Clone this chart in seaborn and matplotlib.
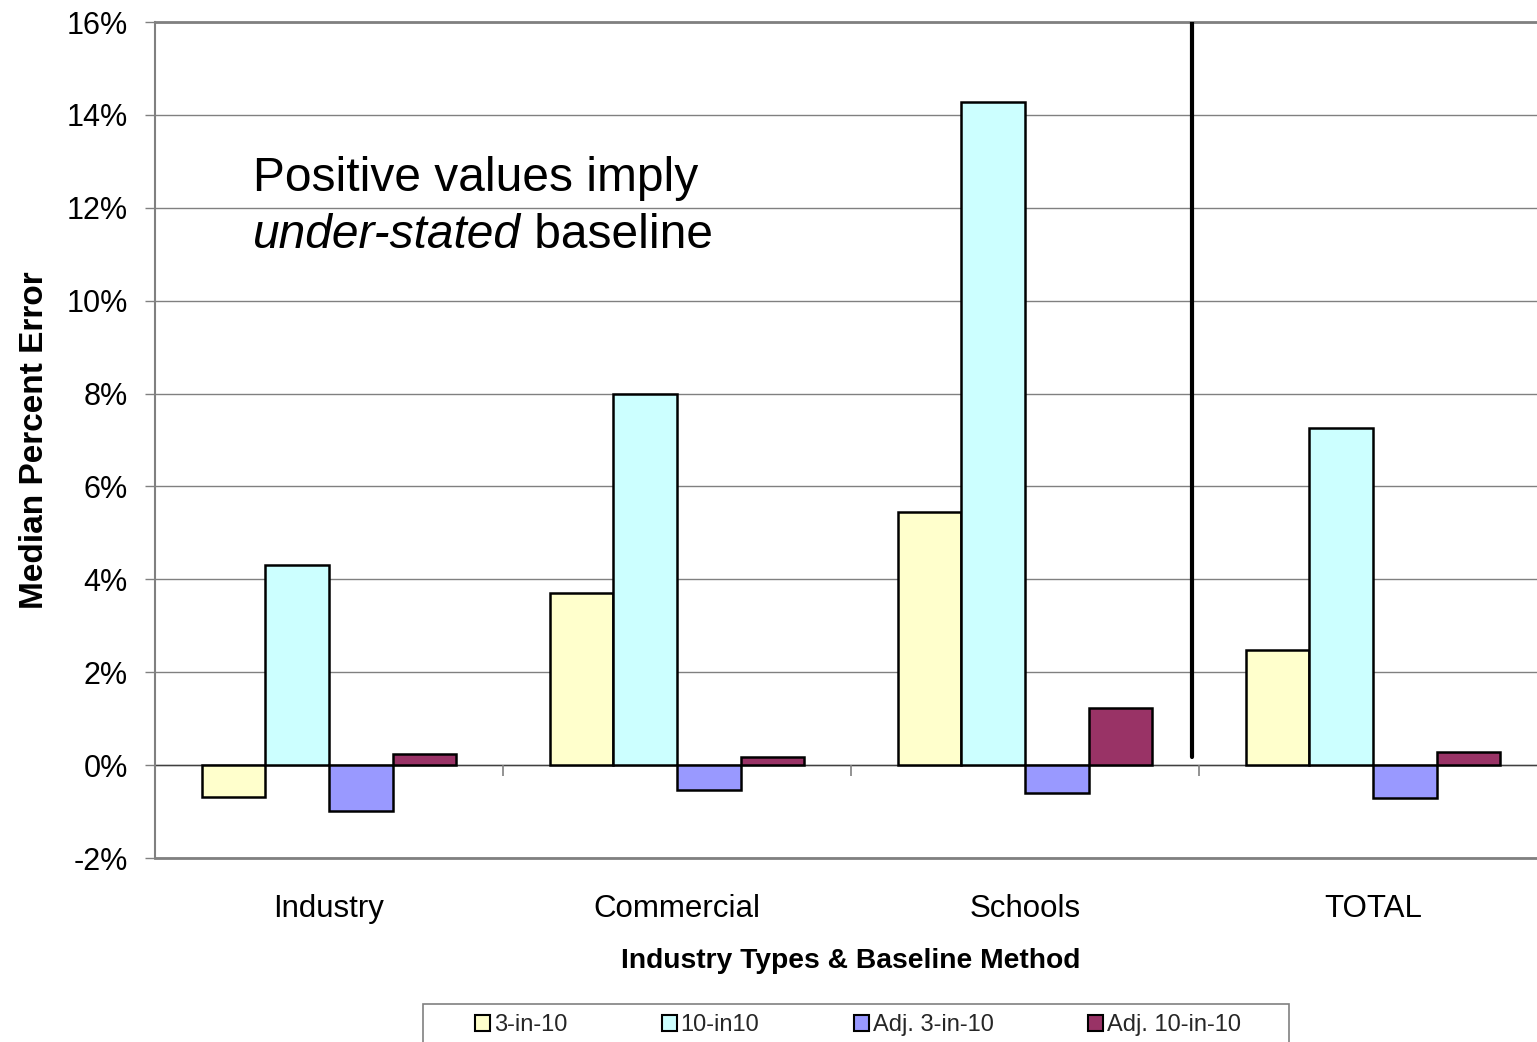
import numpy as np
import pandas as pd
import matplotlib
matplotlib.use("Agg")
import matplotlib.pyplot as plt
from matplotlib.patches import Patch, Rectangle
from matplotlib.ticker import FuncFormatter, MultipleLocator
import seaborn as sns

# Median percent error by industry type and baseline method
categories = ["Industry", "Commercial", "Schools", "TOTAL"]
methods = ["3-in-10", "10-in10", "Adj. 3-in-10", "Adj. 10-in-10"]
err_3in10 = [-0.69, 3.70, 5.46, 2.47]
err_10in10 = [4.30, 7.98, 14.28, 7.25]
err_adj_3in10 = [-0.99, -0.54, -0.60, -0.71]
err_adj_10in10 = [0.24, 0.17, 1.23, 0.28]
colors = ["#FFFFCC", "#CCFFFF", "#9999FF", "#993366"]

series = [err_3in10, err_10in10, err_adj_3in10, err_adj_10in10]
df = pd.DataFrame({
    "Category": np.tile(categories, len(methods)),
    "Method": np.repeat(methods, len(categories)),
    "Value": np.concatenate(series),
})

sns.set_theme(style="white")
plt.rcParams["font.family"] = ["Liberation Sans", "DejaVu Sans"]
plt.rcParams["axes.unicode_minus"] = False

fig = plt.figure(figsize=(15.37, 10.42), dpi=100)
ax = fig.add_axes([155 / 1537, 1 - 858 / 1042, 1392 / 1537, 836 / 1042])

grid_color = "#808080"
ax.set_axisbelow(True)
ax.yaxis.grid(True, color=grid_color, lw=1.0)
ax.xaxis.grid(False)

sns.barplot(data=df, x="Category", y="Value", hue="Method", order=categories,
            hue_order=methods, palette=colors, saturation=1, width=0.73,
            edgecolor="black", linewidth=1.8, legend=False, ax=ax, zorder=3)

ax.axhline(0, color="#404040", lw=1.0, zorder=2)

ax.set_ylim(-2, 16)
ax.set_xlim(-0.5, len(categories) - 0.5)
ax.yaxis.set_major_locator(MultipleLocator(2))
ax.yaxis.set_major_formatter(FuncFormatter(lambda v, p: "%d%%" % round(v)))

# separators between category groups on the zero line
bounds = np.arange(len(categories) - 1) + 0.5
ax.vlines(bounds, 0, -0.24, color=grid_color, lw=1.2, zorder=2)

# divider between individual sectors and the total
ax.axvline(2.48, ymin=(0.17 + 2) / 18, ymax=1, color="black", lw=3.0, zorder=4)

for side in ["left", "bottom", "top"]:
    ax.spines[side].set_visible(True)
    ax.spines[side].set_color(grid_color)
ax.spines["left"].set_linewidth(1.5)
ax.spines["bottom"].set_linewidth(2.0)
ax.spines["top"].set_linewidth(2.0)
ax.spines["right"].set_visible(False)

ax.tick_params(axis="y", which="major", direction="out", length=7.5, width=1.0,
               color=grid_color, left=True, labelsize=22, pad=12, labelcolor="black")
ax.tick_params(axis="x", which="major", length=0, labelsize=22.5, pad=26,
               labelcolor="black")

ax.set_xlabel("Industry Types & Baseline Method", fontsize=20.3, fontweight="bold",
              labelpad=17, color="black")
ax.set_ylabel("Median Percent Error", fontsize=24, fontweight="bold",
              labelpad=12, color="black")

# annotation
ax.text(0.0704, 0.813, "Positive values imply", transform=ax.transAxes,
        fontsize=34.5, va="center", ha="left", color="black", zorder=5)
t2 = ax.text(0.0704, 0.745, "under-stated", transform=ax.transAxes,
             fontsize=34.5, style="italic", va="center", ha="left", color="black", zorder=5)
ax.annotate(" baseline", xy=(1, 0), xycoords=t2, fontsize=34.5, va="bottom",
            ha="left", color="black", zorder=5)

# legend
handles = [Patch(facecolor=c, edgecolor="black", linewidth=1.5) for c in colors]
fig.legend(handles, methods, loc="center", bbox_to_anchor=(858 / 1537, 1 - 1025 / 1042),
           ncol=4, frameon=False, fontsize=17, handlelength=0.65, handleheight=0.65,
           handletextpad=0.15, columnspacing=4.0, borderpad=0)
fig.patches.append(Rectangle((423 / 1537, -0.02), 866 / 1537, 0.02 + 1 - 1004 / 1042,
                             transform=fig.transFigure, fill=False,
                             edgecolor=grid_color, lw=1.2))

fig.savefig("out.png", dpi=100, facecolor="white")
